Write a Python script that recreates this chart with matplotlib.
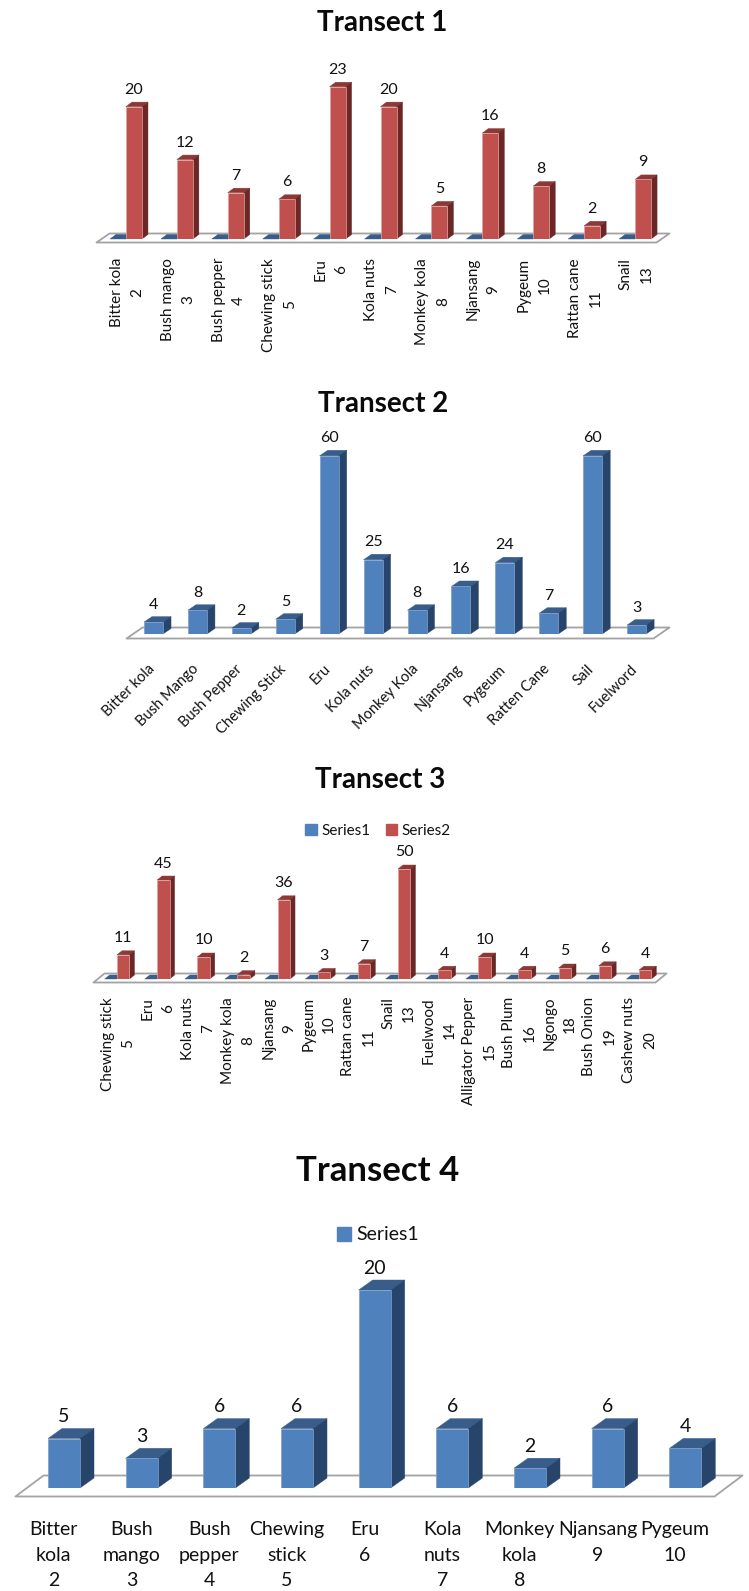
import matplotlib
matplotlib.use("Agg")
import matplotlib.pyplot as plt
from matplotlib.collections import PolyCollection
from matplotlib.patches import Patch
from matplotlib.transforms import IdentityTransform
import numpy as np

plt.rcParams['font.family'] = ['Lato', 'DejaVu Sans']

# ---------- data ----------
t1_labels = ["Bitter kola\n2", "Bush mango\n3", "Bush pepper\n4", "Chewing stick\n5", "Eru\n6", "Kola nuts\n7",
             "Monkey kola\n8", "Njansang\n9", "Pygeum\n10", "Rattan cane\n11", "Snail\n13"]
t1_series1 = [0, 0, 0, 0, 0, 0, 0, 0, 0, 0, 0]
t1_series2 = [20, 12, 7, 6, 23, 20, 5, 16, 8, 2, 9]

t2_labels = ["Bitter kola", "Bush Mango", "Bush Pepper", "Chewing Stick", "Eru", "Kola nuts", "Monkey Kola",
             "Njansang", "Pygeum", "Ratten Cane", "Sail", "Fuelword"]
t2_series1 = [4, 8, 2, 5, 60, 25, 8, 16, 24, 7, 60, 3]

t3_labels = ["Chewing stick\n5", "Eru\n6", "Kola nuts\n7", "Monkey kola\n8", "Njansang\n9", "Pygeum\n10",
             "Rattan cane\n11", "Snail\n13", "Fuelwood\n14", "Alligator Pepper\n15", "Bush Plum\n16",
             "Ngongo\n18", "Bush Onion\n19", "Cashew nuts\n20"]
t3_series1 = [0, 0, 0, 0, 0, 0, 0, 0, 0, 0, 0, 0, 0, 0]
t3_series2 = [11, 45, 10, 2, 36, 3, 7, 50, 4, 10, 4, 5, 6, 4]

t4_labels = ["Bitter\nkola\n2", "Bush\nmango\n3", "Bush\npepper\n4", "Chewing\nstick\n5", "Eru\n6", "Kola\nnuts\n7",
             "Monkey\nkola\n8", "Njansang\n9", "Pygeum\n10"]
t4_series1 = [5, 3, 6, 6, 20, 6, 2, 6, 4]

# ---------- style ----------
W, H = 749, 1591
BLUE = ('#4f81bd', '#385d8a', '#27446b', '#7f9fc9')
RED = ('#c0504d', '#8c3836', '#6a2725', '#dfa3a1')
GREY = '#a3a3a3'
INK = '#111111'
PT = 72 / 100  # points per pixel

fig = plt.figure(figsize=(W / 100, H / 100), dpi=100, facecolor='white')


def make_axes(left, right, base, top, scale, n):
    ax = fig.add_axes([left / W, 1 - base / H, (right - left) / W, (base - top) / H])
    ax.set_xlim(0, n)
    ax.set_ylim(0, (base - top) / scale)
    ax.set_yticks([])
    ax.patch.set_alpha(0)
    for s in ax.spines.values():
        s.set_visible(False)
    return ax


def floor(ax, front_drop, depth):
    x0, x1 = ax.get_xlim()
    (ax0, ay0), (ax1, _) = ax.transData.transform([(x0, 0), (x1, 0)])
    fy = ay0 - front_drop
    pts = np.array([(ax0, fy), (ax1, fy), (ax1 + depth[0], fy + depth[1]), (ax0 + depth[0], fy + depth[1])])
    ax.add_collection(PolyCollection([pts], facecolors='white', edgecolors=GREY, linewidths=1.3,
                                     transform=IdentityTransform(), zorder=0.5, clip_on=False), autolim=False)


def bars3d(ax, xs, vals, width, colors, depth, z):
    ax.bar(xs, vals, width, align='edge', color=colors[0], edgecolor=colors[3], linewidth=0.5, zorder=z + 0.2)
    d = np.array(depth, float)
    tops, sides = [], []
    for x, v in zip(xs, vals):
        p = ax.transData.transform([(x, v), (x + width, v), (x + width, 0)])
        tops.append([p[0], p[1], p[1] + d, p[0] + d])
        sides.append([p[1], p[2], p[2] + d, p[1] + d])
    for polys, c in ((tops, colors[1]), (sides, colors[2])):
        ax.add_collection(PolyCollection(polys, facecolors=c, edgecolors=c, linewidths=0.3,
                                         transform=IdentityTransform(), zorder=z, clip_on=False), autolim=False)


def value_labels(ax, xs, vals, width, off_px, size):
    for x, v in zip(xs, vals):
        ax.annotate(str(v), xy=(x + width / 2, v), xytext=(0, off_px * PT), textcoords='offset points',
                    ha='center', va='center', fontsize=size, color=INK, zorder=10)


def title(text, cx, cy, size):
    fig.text(cx / W, 1 - cy / H, text, ha='center', va='center', fontsize=size, fontweight='bold', color='#0a0a0a')


def legend(ax, handles, cx, cy, size, length):
    fig.legend(handles=handles, loc='center', bbox_to_anchor=(cx / W, 1 - cy / H), ncols=len(handles), frameon=False,
               fontsize=size, handlelength=length, handleheight=length, handletextpad=0.3, columnspacing=1.0,
               borderpad=0, labelcolor=INK)


# ---------- Transect 1 ----------
n = len(t1_labels)
ax = make_axes(96, 656, 239, 60, 6.62, n)
slots = np.arange(n)
floor(ax, 3, (13, 9))
bars3d(ax, slots + 0.275, t1_series1, 0.314, BLUE, (6, 4.5), 1)
bars3d(ax, slots + 0.589, t1_series2, 0.314, RED, (6, 4.5), 2)
value_labels(ax, slots + 0.589, t1_series2, 0.314, 17, 11.5)
ax.set_xticks(slots + 0.61, t1_labels, rotation=90, ha='center', va='top', fontsize=11, color=INK,
              linespacing=1.6)
ax.tick_params(axis='x', length=0, pad=19 * PT)
title("Transect 1", 382, 23, 20)

# ---------- Transect 2 ----------
n = len(t2_labels)
ax = make_axes(126, 653, 634, 430, 2.97, n)
slots = np.arange(n)
floor(ax, 4, (16, 11))
bars3d(ax, slots + 0.41, t2_series1, 0.433, BLUE, (8, 5.5), 1)
value_labels(ax, slots + 0.41, t2_series1, 0.433, 17.5, 11.5)
ax.set_xticks(slots + 0.49, t2_labels, rotation=45, ha='right', va='top', rotation_mode='anchor', fontsize=10.5,
              color=INK)
ax.tick_params(axis='x', length=0, pad=28 * PT)
title("Transect 2", 383, 404, 20)

# ---------- Transect 3 ----------
n = len(t3_labels)
ax = make_axes(93, 655, 979, 840, 2.2, n)
slots = np.arange(n)
floor(ax, 3, (11, 9))
bars3d(ax, slots + 0.29, t3_series1, 0.31, BLUE, (5, 4), 1)
bars3d(ax, slots + 0.598, t3_series2, 0.31, RED, (5, 4), 2)
value_labels(ax, slots + 0.598, t3_series2, 0.31, 16.5, 11.5)
ax.set_xticks(slots + 0.62, t3_labels, rotation=90, ha='center', va='top', fontsize=11, color=INK,
              linespacing=1.6)
ax.tick_params(axis='x', length=0, pad=18 * PT)
title("Transect 3", 380, 780, 20)
legend(ax, [Patch(color=BLUE[0], label='Series1'), Patch(color=RED[0], label='Series2')], 378, 831, 11, 0.75)

# ---------- Transect 4 ----------
n = len(t4_labels)
ax = make_axes(15, 714, 1488, 1250, 9.9, n)
slots = np.arange(n)
floor(ax, 8, (28, 21))
bars3d(ax, slots + 0.425, t4_series1, 0.412, BLUE, (14, 10), 1)
value_labels(ax, slots + 0.425, t4_series1, 0.412, 22, 14)
ax.set_xticks(slots + 0.5, t4_labels, ha='center', va='top', fontsize=14, color=INK, linespacing=1.62)
ax.tick_params(axis='x', length=0, pad=33 * PT)
title("Transect 4", 378, 1171, 25)
legend(ax, [Patch(color=BLUE[0], label='Series1')], 378, 1235, 14, 0.7)

fig.savefig('out.png', dpi=100, facecolor='white')
